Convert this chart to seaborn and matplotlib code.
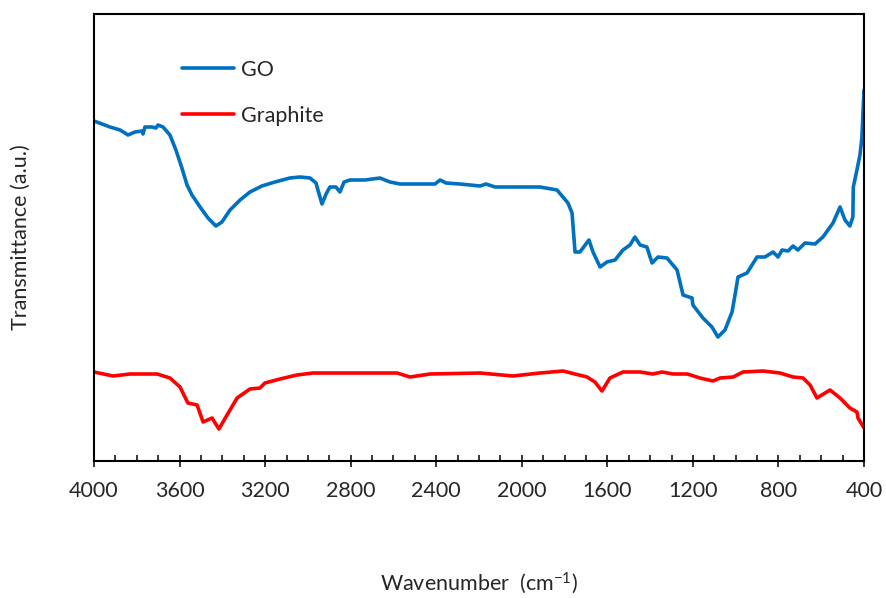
import numpy as np
import pandas as pd
import matplotlib
matplotlib.use("Agg")
import matplotlib.pyplot as plt
import seaborn as sns
from matplotlib.ticker import MultipleLocator

# ---- data (transmittance in arbitrary units) ----
go_wavenumber = [4000, 3925, 3878, 3841, 3808, 3776, 3771, 3762, 3729, 3710, 3701, 3677,
                 3645, 3617, 3589, 3565, 3542, 3504, 3467, 3430, 3402, 3364, 3317, 3271,
                 3215, 3154, 3084, 3037, 2990, 2962, 2953, 2934, 2915, 2897, 2869, 2850,
                 2831, 2803, 2733, 2663, 2616, 2569, 2476, 2406, 2382, 2354, 2289, 2195,
                 2167, 2125, 2008, 1915, 1835, 1784, 1765, 1751, 1728, 1686, 1667, 1634,
                 1602, 1564, 1527, 1494, 1471, 1447, 1415, 1391, 1363, 1321, 1274, 1246,
                 1204, 1200, 1153, 1111, 1083, 1050, 1017, 1003, 989, 947, 900, 863, 825,
                 802, 783, 755, 732, 709, 676, 629, 592, 545, 512, 489, 466, 452, 450,
                 433, 419, 410, 400]
go_transmittance = [340, 334, 331, 326, 329, 330, 327, 334, 334, 333, 336, 334,
                    326, 311, 293, 276, 266, 254, 243, 235, 239, 251, 261, 269,
                    275, 279, 283, 284, 283, 278, 271, 257, 267, 274, 274, 269,
                    279, 281, 281, 283, 279, 277, 277, 277, 281, 278, 277, 275,
                    277, 274, 274, 274, 271, 258, 248, 209, 209, 221, 209, 194,
                    199, 201, 211, 216, 224, 216, 214, 198, 204, 203, 191, 166,
                    163, 156, 143, 134, 124, 131, 149, 166, 184, 188, 204, 204, 209,
                    204, 211, 210, 215, 211, 218, 217, 224, 238, 254, 241, 235, 244, 274,
                    291, 306, 323, 371]

graphite_wavenumber = [4000, 3911, 3832, 3705, 3645, 3598, 3561, 3518, 3490, 3448, 3416,
                       3378, 3331, 3271, 3224, 3201, 3130, 3051, 2976, 2663, 2583, 2523,
                       2429, 2195, 2041, 1915, 1807, 1695, 1658, 1625, 1588, 1527, 1447,
                       1387, 1344, 1293, 1226, 1167, 1106, 1073, 1012, 966, 872, 793,
                       732, 685, 652, 620, 559, 512, 466, 433, 428, 400]
graphite_transmittance = [89, 85, 87, 87, 83, 74, 58, 56, 39, 43, 32,
                          46, 63, 72, 73, 78, 82, 86, 88, 88, 88, 84,
                          87, 88, 85, 88, 90, 84, 79, 70, 83, 89, 89,
                          87, 89, 87, 87, 83, 80, 83, 84, 89, 90, 88,
                          84, 83, 76, 63, 71, 63, 53, 49, 43, 33]

series_names = ["GO", "Graphite"]
series_colors = ["#0070C0", "#FF0000"]
x_major_ticks = [4000, 3600, 3200, 2800, 2400, 2000, 1600, 1200, 800, 400]

df = pd.concat([
    pd.DataFrame({"Wavenumber": go_wavenumber, "T": go_transmittance, "Sample": series_names[0]}),
    pd.DataFrame({"Wavenumber": graphite_wavenumber, "T": graphite_transmittance, "Sample": series_names[1]}),
], ignore_index=True)

sns.set_style("white")
plt.rcParams["font.family"] = ["Lato", "DejaVu Sans"]
plt.rcParams["mathtext.default"] = "regular"
plt.rcParams["lines.solid_joinstyle"] = "round"
plt.rcParams["lines.solid_capstyle"] = "round"

fig = plt.figure(figsize=(8.86, 5.98), dpi=100)
ax = fig.add_axes([94 / 886, 1 - 461 / 598, 770 / 886, 447 / 598])

sns.lineplot(data=df, x="Wavenumber", y="T", hue="Sample", hue_order=series_names,
             palette=dict(zip(series_names, series_colors)), estimator=None,
             sort=True, linewidth=2.6, ax=ax)
for line in ax.get_lines():
    line.set_solid_joinstyle("round")

ax.set_xlim(4000, 400)
ax.set_ylim(0, 447)
ax.set_xticks(x_major_ticks)
ax.xaxis.set_minor_locator(MultipleLocator(100))
ax.set_yticks([])

for s in ax.spines.values():
    s.set_visible(True)
    s.set_color("black")
    s.set_linewidth(1.5)

FS = 15.5
ax.tick_params(axis="x", which="major", direction="inout", length=9, width=1.1,
               color="black", labelsize=FS, labelcolor="#262626", pad=10, bottom=True)
ax.tick_params(axis="x", which="minor", direction="in", length=4, width=1.1,
               color="black", bottom=True)

ax.set_xlabel("Wavenumber  (cm$^{-1}$)", fontsize=FS, color="#262626")
ax.set_ylabel("Transmittance (a.u.)", fontsize=FS, color="#262626")
ax.xaxis.set_label_coords(0.5, (461 - 571) / 447)
ax.yaxis.set_label_coords((31 - 94) / 770, 0.5)

leg = ax.legend(loc="upper left", bbox_to_anchor=((182 - 94) / 770, (461 - 60) / 447),
                frameon=False, fontsize=FS, handlelength=2.4, handletextpad=0.35,
                labelspacing=1.2, borderpad=0, borderaxespad=0)
for line in leg.get_lines():
    line.set_linewidth(2.6)
for t in leg.get_texts():
    t.set_color("#262626")

fig.savefig("out.png", dpi=100)
